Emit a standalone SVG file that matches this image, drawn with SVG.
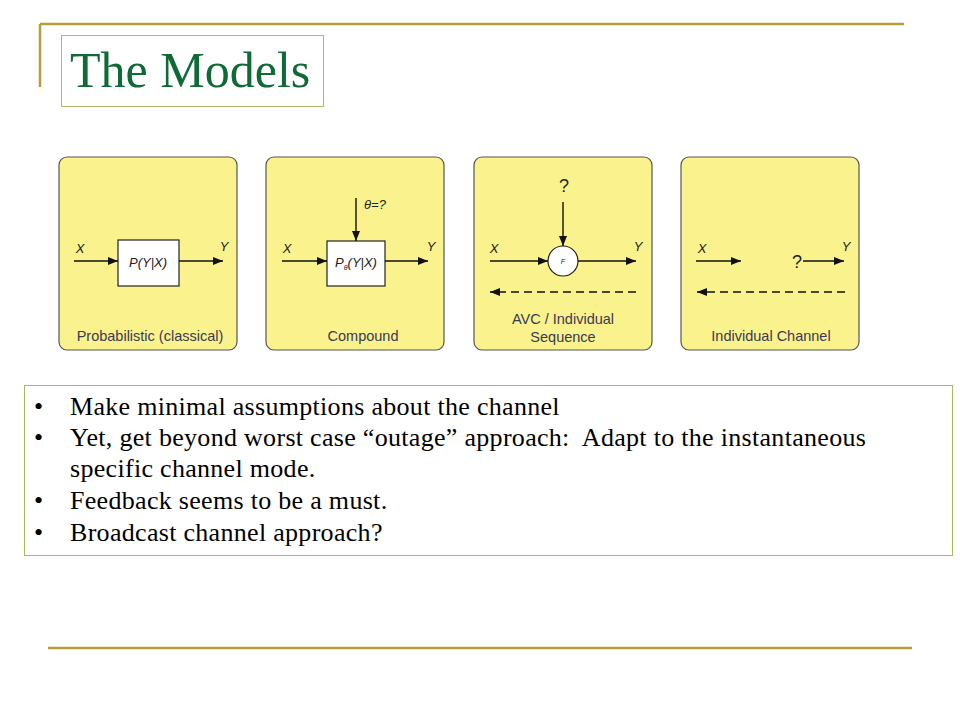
<svg xmlns="http://www.w3.org/2000/svg" width="960" height="720" viewBox="0 0 960 720">
<defs>
<marker id="ah" markerWidth="10" markerHeight="8" refX="10" refY="4" orient="auto" markerUnits="userSpaceOnUse">
<path d="M0,0 L10,4 L0,8 Z" fill="#111"/>
</marker>
<style>
.frame{stroke:#B99B38;stroke-width:2.5;fill:none}
.panel{fill:#FAF28C;stroke:#555;stroke-width:1.2}
.box{fill:#fff;stroke:#222;stroke-width:1.2}
.ln{stroke:#111;stroke-width:1.4;fill:none}
.dash{stroke:#111;stroke-width:1.4;fill:none;stroke-dasharray:8,5}
.lab{font-family:"Liberation Sans",Arial,sans-serif;font-size:14.5px;fill:#3a3a55;text-anchor:middle}
.var{font-family:"Liberation Sans",Arial,sans-serif;font-size:13px;font-style:italic;fill:#222;text-anchor:middle}
.bt{font-family:"Liberation Serif","Times New Roman",serif;font-size:26px;letter-spacing:0.3px;fill:#000}
</style>
</defs>
<rect width="960" height="720" fill="#fff"/>
<g id="frame">
<line class="frame" x1="40" y1="24" x2="904" y2="24"/>
<line class="frame" x1="40" y1="24" x2="40" y2="87"/>
<line class="frame" x1="48" y1="648" x2="912" y2="648"/>
</g>
<g id="title">
<rect x="61.5" y="35.5" width="262" height="71" fill="#fff" stroke="#B5B56A" stroke-width="1"/>
<text x="70" y="87" font-family="'Liberation Serif','Times New Roman',serif" font-size="50" fill="#106A36">The Models</text>
</g>
<g id="panel1">
<rect class="panel" x="59" y="157" width="178" height="193" rx="8"/>
<rect class="box" x="118" y="240" width="61" height="46"/>
<text class="var" x="148" y="267">P(Y|X)</text>
<text class="var" x="80" y="253">X</text>
<text class="var" x="224" y="251">Y</text>
<text class="lab" x="150" y="341">Probabilistic (classical)</text>
</g>
<g id="panel2">
<rect class="panel" x="266" y="157" width="178" height="193" rx="8"/>
<rect class="box" x="327" y="241" width="58" height="45"/>
<text class="var" x="356" y="267">P<tspan font-size="7" dy="3">θ</tspan><tspan dy="-3">(Y|X)</tspan></text>
<text class="var" x="287" y="253">X</text>
<text class="var" x="431" y="251">Y</text>
<text class="var" x="375" y="209" font-size="16">θ=?</text>
<text class="lab" x="363" y="341">Compound</text>
</g>
<g id="panel3">
<rect class="panel" x="474" y="157" width="178" height="193" rx="8"/>
<circle cx="563" cy="261" r="15" fill="#fff" stroke="#222" stroke-width="1.2"/>
<text x="563" y="264" font-family="'Liberation Sans',Arial,sans-serif" font-size="7" font-style="italic" text-anchor="middle" fill="#222">F</text>
<text x="564" y="192" font-family="'Liberation Sans',Arial,sans-serif" font-size="18" text-anchor="middle" fill="#222">?</text>
<text class="var" x="494" y="253">X</text>
<text class="var" x="638" y="251">Y</text>
<text class="lab" x="563" y="324">AVC / Individual</text>
<text class="lab" x="563" y="342">Sequence</text>
</g>
<g id="panel4">
<rect class="panel" x="681" y="157" width="178" height="193" rx="8"/>
<text class="var" x="702" y="253">X</text>
<text class="var" x="846" y="251">Y</text>
<text x="797" y="268" font-family="'Liberation Sans',Arial,sans-serif" font-size="18" text-anchor="middle" fill="#222">?</text>
<text class="lab" x="771" y="341">Individual Channel</text>
</g>
<g id="connectors">
<line class="ln" x1="74" y1="261" x2="118" y2="261" marker-end="url(#ah)"/>
<line class="ln" x1="179" y1="261" x2="223" y2="261" marker-end="url(#ah)"/>
<line class="ln" x1="282" y1="261" x2="327" y2="261" marker-end="url(#ah)"/>
<line class="ln" x1="385" y1="261" x2="428" y2="261" marker-end="url(#ah)"/>
<line class="ln" x1="356" y1="198" x2="356" y2="241" marker-end="url(#ah)"/>
<line class="ln" x1="490" y1="261" x2="548" y2="261" marker-end="url(#ah)"/>
<line class="ln" x1="578" y1="261" x2="636" y2="261" marker-end="url(#ah)"/>
<line class="ln" x1="563" y1="202" x2="563" y2="246" marker-end="url(#ah)"/>
<line class="dash" x1="636" y1="292" x2="490" y2="292" marker-end="url(#ah)"/>
<line class="ln" x1="696" y1="261" x2="741" y2="261" marker-end="url(#ah)"/>
<line class="ln" x1="803" y1="261" x2="844" y2="261" marker-end="url(#ah)"/>
<line class="dash" x1="845" y1="292" x2="697" y2="292" marker-end="url(#ah)"/>
</g>
<g id="bullets">
<rect x="24.5" y="385.5" width="928" height="170" fill="#fff" stroke="#A9BA5E" stroke-width="1"/>
<g class="bt">
<text x="34" y="415">•</text>
<text x="70" y="415">Make minimal assumptions about the channel</text>
<text x="34" y="446">•</text>
<text x="70" y="446" xml:space="preserve">Yet, get beyond worst case “outage” approach:  Adapt to the instantaneous</text>
<text x="70" y="477">specific channel mode.</text>
<text x="34" y="509">•</text>
<text x="70" y="509">Feedback seems to be a must.</text>
<text x="34" y="541">•</text>
<text x="70" y="541">Broadcast channel approach?</text>
</g>
</g>
</svg>
